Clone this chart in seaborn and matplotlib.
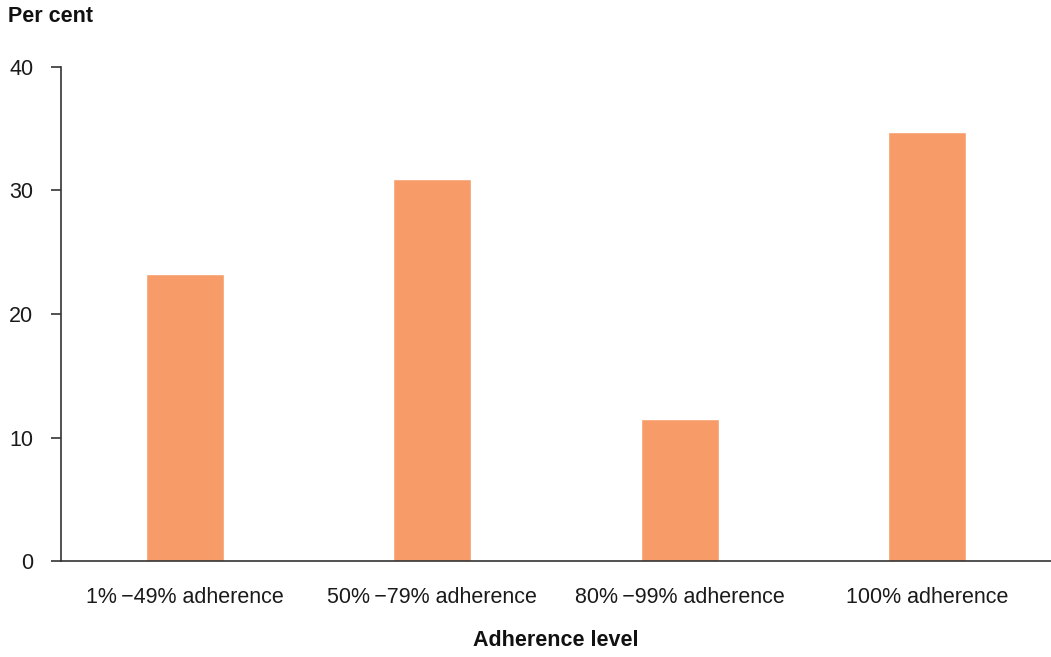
import matplotlib
matplotlib.use("Agg")
import matplotlib.pyplot as plt
import seaborn as sns
import pandas as pd

categories = ["1%\u2009\u221249% adherence", "50%\u2009\u221279% adherence",
              "80%\u2009\u221299% adherence", "100% adherence"]
values = [23.2, 30.9, 11.5, 34.7]
y_ticks = [0, 10, 20, 30, 40]

sns.set_theme(style="white")
plt.rcParams['font.family'] = ['Liberation Sans', 'DejaVu Sans']

df = pd.DataFrame({"cat": categories, "val": values})

fig = plt.figure(figsize=(10.51, 6.57), dpi=100)
ax = fig.add_axes([61/1051, (657-561)/657, 1 - 61/1051, (561-67)/657])

sns.barplot(data=df, x="cat", y="val", color="#F79C69", saturation=1, width=0.315, ax=ax)

ax.set_ylim(0, 40)
ax.set_xlim(-0.5, 3.5)
ax.set_yticks(y_ticks)
ax.set_yticklabels([str(t) for t in y_ticks], fontsize=15.5, color="#1a1a1a")
ax.tick_params(axis="y", direction="out", length=7, width=1.2, color="#333333", pad=13, left=True)
ax.tick_params(axis="x", length=0, pad=19, labelsize=15.5, labelcolor="#1a1a1a")
ax.set_xlabel("")
ax.set_ylabel("")
for s in ["top", "right"]:
    ax.spines[s].set_visible(False)
for s in ["left", "bottom"]:
    ax.spines[s].set_color("#333333")
    ax.spines[s].set_linewidth(1.2)

fig.text(8/1051, 1 - 16/657, "Per cent", fontsize=15.5, fontweight="bold", ha="left", va="center", color="#111111")
fig.text(556/1051, 1 - 640/657, "Adherence level", fontsize=15.5, fontweight="bold", ha="center", va="center", color="#111111")

fig.savefig("out.png", dpi=100)
